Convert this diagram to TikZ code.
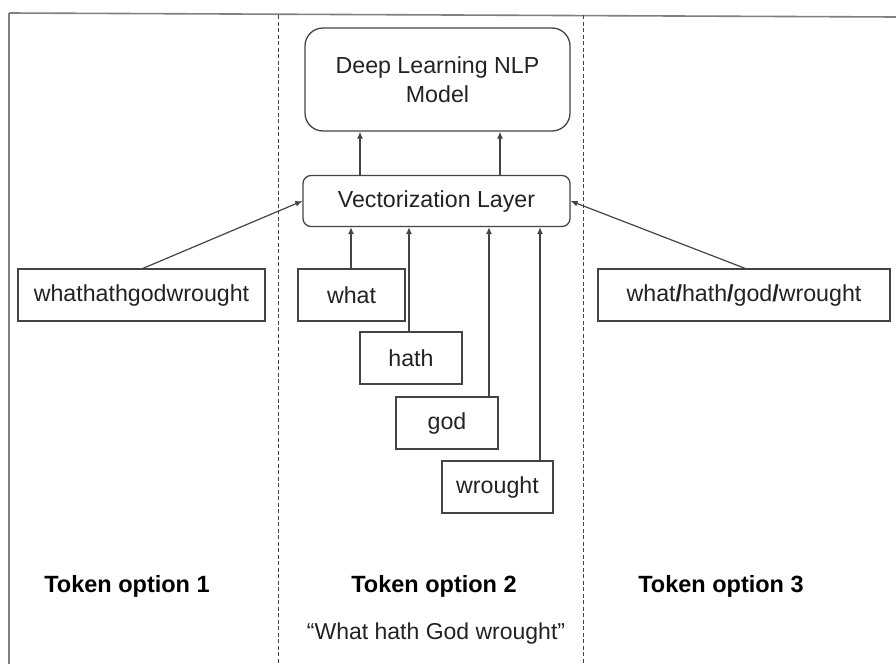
\documentclass[tikz,border=0pt]{standalone}
\usepackage{fontspec}
\setmainfont{Liberation Sans}
\usetikzlibrary{arrows.meta}
\definecolor{ln}{HTML}{444444}
\definecolor{tx}{HTML}{222222}
\tikzset{
  tbox/.style={draw=ln, line width=1.3pt, rectangle, inner sep=0pt, text=tx, font=\fontsize{23.2}{27}\selectfont},
  rbox/.style={tbox, rounded corners=8pt},
  arr/.style={draw=ln, line width=1.2pt, -{Latex[length=7pt,width=6pt]}},
  sep/.style={draw=ln, line width=1pt, dash pattern=on 4pt off 2.5pt},
  frame/.style={draw=gray, line width=1.6pt},
  lbl/.style={text=black, font=\fontsize{23.5}{27}\selectfont\bfseries},
}
\begin{document}
\begin{tikzpicture}[x=1pt,y=-1pt]
\useasboundingbox (0,0) rectangle (896,664);
% frame
\draw[frame] (9,13) -- (896,17);
\draw[frame] (9,13) -- (9,664);
\draw[sep] (278,15) -- (278,664);
\draw[sep] (583,15) -- (583,664);
% nodes
\node[rbox, minimum width=265pt, minimum height=103pt, rounded corners=18pt, align=center] (dl) at (437.5,79.5) {Deep Learning NLP\\[2pt]Model};
\node[rbox, minimum width=267pt, minimum height=51pt] (vec) at (436.5,201) {Vectorization Layer};
\node[tbox, minimum width=247pt, minimum height=52pt] (w1) at (141.5,295) {whathathgodwrought};
\node[tbox, minimum width=292pt, minimum height=52pt] (w3) at (744,295) {what\textbf{/}hath\textbf{/}god\textbf{/}wrought};
\node[tbox, minimum width=107pt, minimum height=52pt] (what) at (351.5,295) {what};
\node[tbox, minimum width=102pt, minimum height=52pt] (hath) at (411,358) {hath};
\node[tbox, minimum width=102pt, minimum height=52pt] (god) at (447,423) {god};
\node[tbox, minimum width=111pt, minimum height=52pt] (wrought) at (497.5,487) {wrought};
% arrows
\draw[arr] (vec.north -| 360,0) -- (dl.south -| 360,0);
\draw[arr] (vec.north -| 500,0) -- (dl.south -| 500,0);
\draw[arr] (w1.north -| 143,0) -- (vec.west);
\draw[arr] (w3.north -| 745,0) -- (vec.east);
\draw[arr] (what.north -| 351,0) -- (vec.south -| 351,0);
\draw[arr] (hath.north -| 409,0) -- (vec.south -| 409,0);
\draw[arr] (god.north -| 489,0) -- (vec.south -| 489,0);
\draw[arr] (wrought.north -| 540,0) -- (vec.south -| 540,0);
% labels
\node[lbl] (l1) at (127,586) {Token option 1};
\node[lbl] (l2) at (434,586) {Token option 2};
\node[lbl] (l3) at (721,586) {Token option 3};
\node[text=tx, font=\fontsize{23}{27}\selectfont] (q) at (436,634) {“What hath God wrought”};
\end{tikzpicture}
\end{document}
